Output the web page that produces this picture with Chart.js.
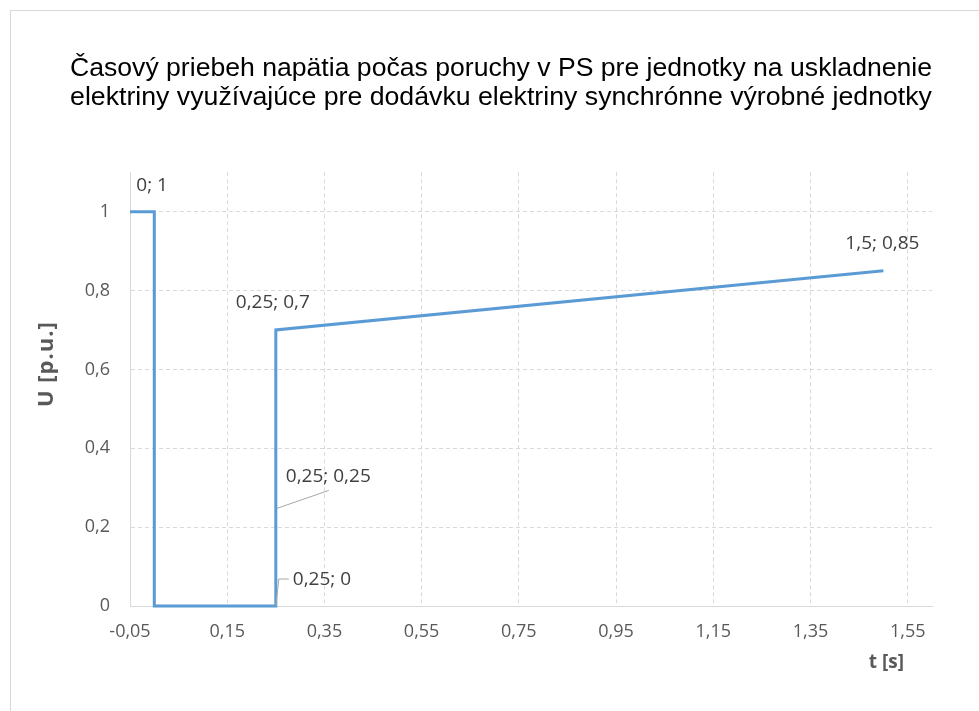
<!DOCTYPE html>
<html>
<head>
<meta charset="utf-8">
<script src="https://cdn.jsdelivr.net/npm/chart.js@4/dist/chart.umd.min.js"></script>
<style>
  html, body { margin: 0; padding: 0; background: #fff; overflow: hidden; }
  #frame { position: absolute; left: 10px; top: 10px; width: 1000px; height: 720px;
           border-left: 1px solid #d9d9d9; border-top: 1px solid #d9d9d9; }
  #chart { position: absolute; left: 0; top: 0; }
</style>
</head>
<body>
<div id="frame"></div>
<canvas id="chart" width="979" height="711"></canvas>
<script>
// data
var tValues = [-0.05, 0, 0, 0.25, 0.25, 0.25, 1.5];
var uValues = [1, 1, 0, 0, 0.25, 0.7, 0.85];
var xTicks = [-0.05, 0.15, 0.35, 0.55, 0.75, 0.95, 1.15, 1.35, 1.55];
var yTicks = [0, 0.2, 0.4, 0.6, 0.8, 1];
var titleLines = [
    'Časový priebeh napätia počas poruchy v PS pre jednotky na uskladnenie',
    'elektriny využívajúce pre dodávku elektriny synchrónne výrobné jednotky'
];
var xTitle = 't [s]';
var yTitle = 'U [p.u.]';

// where each data label sits relative to its point (index into the arrays above)
var labelStyle = [
    {i: 1, dx: -18, dy: -26, align: 'left'},
    {i: 5, dx: -3, dy: -27, align: 'center'},
    {i: 6, dx: -1, dy: -27, align: 'center'},
    {i: 4, dx: 10, dy: -31, align: 'left', leader: [[1, 1], [53, -17]]},
    {i: 3, dx: 17, dy: -26, align: 'left', leader: [[0, 0], [3, -27], [13, -27]]}
];

var tickFont = {family: '"Open Sans"', size: 18};
var gray = '#595959';

function fmt(v) {
    return String(Math.round(v * 100) / 100).replace('.', ',');
}

var labelPlugin = {
    id: 'pointLabels',
    afterDatasetsDraw: function(chart) {
        var ctx = chart.ctx;
        var meta = chart.getDatasetMeta(0);
        var area = chart.chartArea;
        ctx.save();
        ctx.font = '19px "Open Sans"';
        ctx.fillStyle = '#404040';
        ctx.textBaseline = 'middle';
        labelStyle.forEach(function(s) {
            var el = meta.data[s.i];
            if (s.leader) {
                ctx.strokeStyle = '#a6a6a6';
                ctx.lineWidth = 1;
                ctx.beginPath();
                s.leader.forEach(function(p, k) {
                    if (k === 0) ctx.moveTo(el.x + p[0], el.y + p[1]);
                    else ctx.lineTo(el.x + p[0], el.y + p[1]);
                });
                ctx.stroke();
            }
            ctx.textAlign = s.align;
            ctx.fillText(fmt(tValues[s.i]) + '; ' + fmt(uValues[s.i]), el.x + s.dx, el.y + s.dy);
        });

        //axis titles
        ctx.font = 'bold 19px "Open Sans"';
        ctx.fillStyle = gray;
        ctx.textAlign = 'right';
        ctx.fillText(xTitle, area.right - 28, area.bottom + 57);
        ctx.font = 'bold 22px "Open Sans"';
        ctx.letterSpacing = '1px';
        ctx.translate(area.left - 83, area.top + 192);
        ctx.rotate(-Math.PI / 2);
        ctx.textAlign = 'center';
        ctx.fillText(yTitle, 0, 0);
        ctx.restore();
    }
};

var points = tValues.map(function(t, k) { return {x: t, y: uValues[k]}; });

var chart = new Chart(document.getElementById('chart'), {
    type: 'scatter',
    data: {
        datasets: [{
            data: points,
            showLine: true,
            borderColor: '#5B9BD5',
            borderWidth: 3,
            pointRadius: 0,
            tension: 0,
            clip: false
        }]
    },
    options: {
        responsive: false,
        animation: false,
        devicePixelRatio: 1,
        layout: {padding: {left: 70, right: 47, top: 0, bottom: 0}},
        plugins: {
            legend: {display: false},
            tooltip: {enabled: false},
            title: {
                display: true,
                text: titleLines,
                color: '#000',
                font: {family: '"Liberation Sans"', size: 26.7, weight: 'normal', lineHeight: 1.09},
                padding: {top: 54, bottom: 60}
            }
        },
        scales: {
            x: {
                type: 'linear',
                min: -0.05,
                max: 1.6,
                afterBuildTicks: function(scale) {
                    scale.ticks = xTicks.map(function(v) { return {value: v}; });
                },
                afterFit: function(scale) { scale.height = 105; },
                ticks: {
                    font: tickFont,
                    color: gray,
                    padding: 15,
                    maxRotation: 0,
                    autoSkip: false,
                    callback: function(v) { return fmt(v); }
                },
                grid: {color: '#d9d9d9', lineWidth: 1, drawTicks: false},
                border: {display: true, color: '#d9d9d9', width: 1, dash: [4, 3]}
            },
            y: {
                type: 'linear',
                min: 0,
                max: 1.1,
                afterBuildTicks: function(scale) {
                    scale.ticks = yTicks.map(function(v) { return {value: v}; });
                },
                afterFit: function(scale) { scale.width = 60; },
                ticks: {
                    font: tickFont,
                    color: gray,
                    padding: 20,
                    autoSkip: false,
                    callback: function(v) { return fmt(v); }
                },
                grid: {color: '#d9d9d9', lineWidth: 1, drawTicks: false},
                border: {display: true, color: '#d9d9d9', width: 1, dash: [4, 3]}
            }
        }
    },
    plugins: [labelPlugin]
});
</script>
</body>
</html>
